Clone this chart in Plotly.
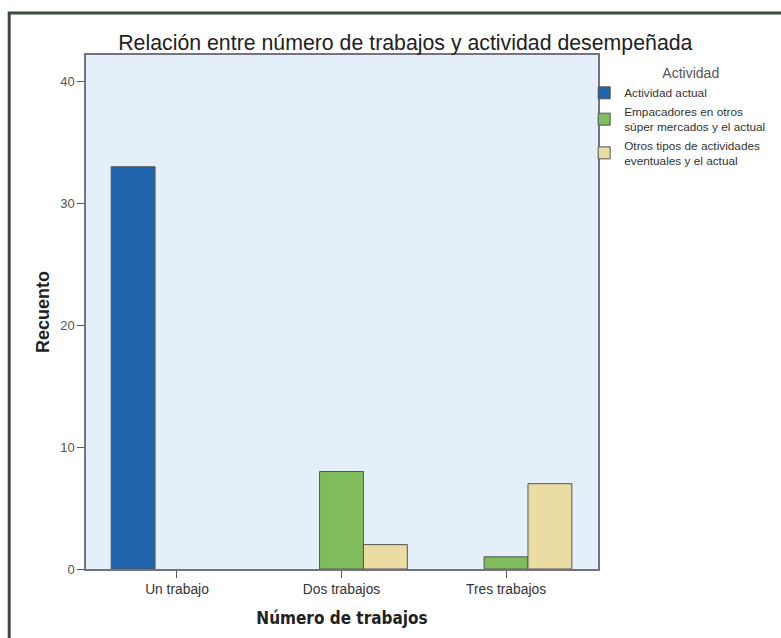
import plotly.graph_objects as go

categories = ["Un trabajo", "Dos trabajos", "Tres trabajos"]
series_names = [
    "Actividad actual",
    "Empacadores en otros<br>súper mercados y el actual",
    "Otros tipos de actividades<br>eventuales y el actual",
]
actividad_actual = [33, None, None]
empacadores = [None, 8, 1]
otros_tipos = [None, 2, 7]
colors = ["#1f63ad", "#7fbd5c", "#ebdca3"]
y_ticks = [0, 10, 20, 30, 40]

fig = go.Figure()
for name, vals, col in zip(series_names, [actividad_actual, empacadores, otros_tipos], colors):
    fig.add_trace(go.Bar(
        x=categories, y=vals, name=name,
        marker=dict(color=col, line=dict(color="#555555", width=1)),
    ))

FONT = "Liberation Sans, Arial, sans-serif"
fig.update_layout(
    width=781, height=638,
    margin=dict(l=86, r=183, t=55, b=69, autoexpand=False),
    paper_bgcolor="white",
    plot_bgcolor="#e4effa",
    barmode="group",
    bargap=0.2, bargroupgap=0,
    font=dict(family=FONT, size=12, color="#333333"),
    title=dict(
        text="Relación entre número de trabajos y actividad desempeñada",
        x=0.519, xanchor="center", y=0.934, yanchor="middle",
        font=dict(size=21.3, color="#222222"),
    ),
    legend=dict(
        title=dict(text="&nbsp;&nbsp;&nbsp;&nbsp;&nbsp;&nbsp;&nbsp;Actividad", side="top center",
                   font=dict(size=14, color="#555555")),
        x=0.973, xanchor="left", y=0.99, yanchor="top",
        bgcolor="rgba(0,0,0,0)",
        font=dict(size=11.8, color="#333333"),
        tracegroupgap=1, itemwidth=30,
    ),
    showlegend=True,
)
fig.update_xaxes(
    type="category",
    range=[-0.553, 2.559],
    showline=True, linecolor="#737384", linewidth=1.5, mirror=True,
    ticks="outside", ticklen=7, tickcolor="#555555",
    showgrid=False,
    tickfont=dict(size=13.8, color="#333333"),
    title=dict(text="<b>Número de trabajos</b>",
               font=dict(size=17, color="#222222", family="DejaVu Sans Condensed, Liberation Sans"),
               standoff=16),
)
fig.update_yaxes(
    range=[0, 42.17],
    tickvals=y_ticks,
    showline=True, linecolor="#737384", linewidth=1.5, mirror=True,
    ticks="outside", ticklen=7, tickcolor="#555555",
    showgrid=False, zeroline=False,
    tickfont=dict(size=13, color="#555555"),
    title=dict(text="<b>Recuento</b>", font=dict(size=18, color="#222222"), standoff=6),
)
fig.add_shape(
    type="rect", xref="paper", yref="paper",
    x0=-0.150, x1=2.0, y0=-1.0, y1=1.0817,
    line=dict(color="#3c4a40", width=3), fillcolor="rgba(0,0,0,0)", layer="below",
)
fig.write_html("out.html", config={"displayModeBar": False},
               post_script="document.body.style.margin='0';")
